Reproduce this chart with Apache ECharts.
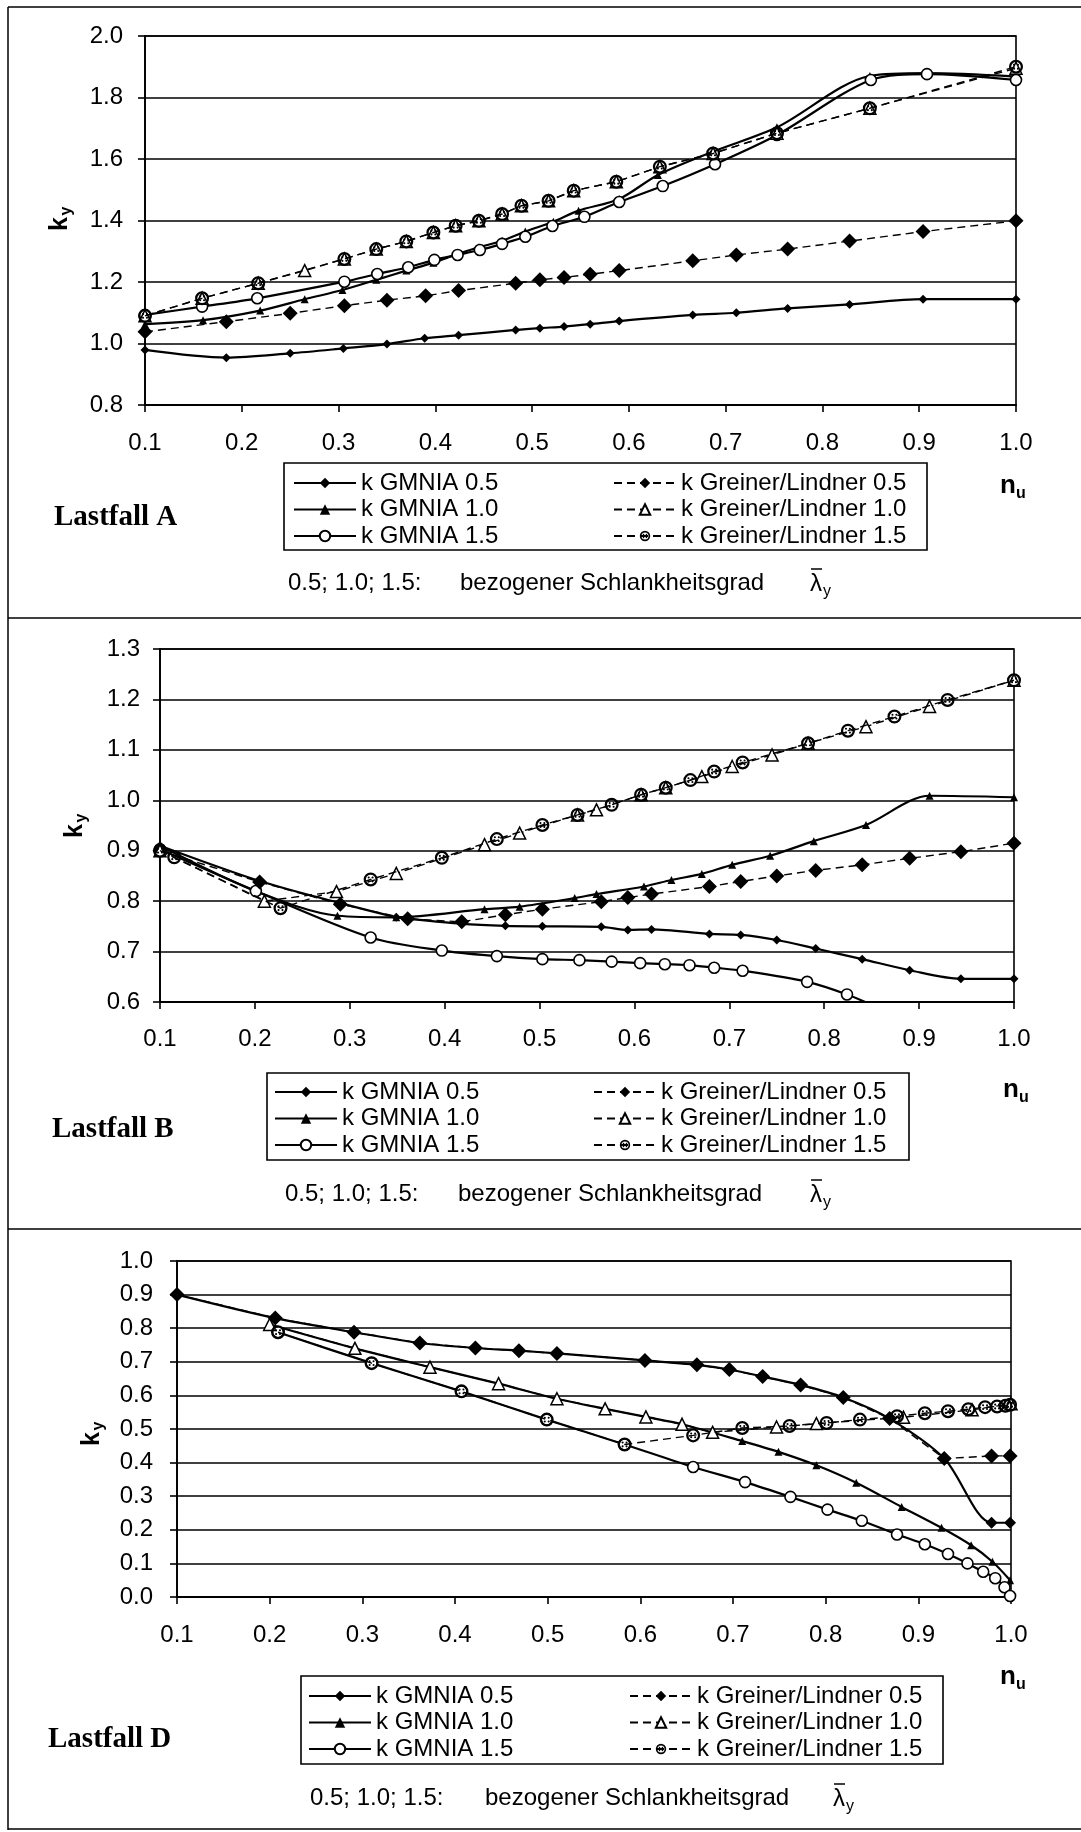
<!DOCTYPE html>
<html>
<head>
<meta charset="utf-8">
<script src="https://cdn.jsdelivr.net/npm/echarts@6/dist/echarts.min.js"></script>
<style>
html,body{margin:0;padding:0;background:#fff;}
#c{width:1081px;height:1832px;}
</style>
</head>
<body>
<div id="c"></div>
<script>
// ---------------- DATA (n_u, k_y) ----------------
// Lastfall A
const A_GMNIA_05 = [[0.1,0.979],[0.184,0.954],[0.25,0.968],[0.305,0.984],[0.35,0.998],[0.389,1.017],[0.424,1.027],[0.483,1.044],[0.508,1.05],[0.533,1.055],[0.56,1.063],[0.59,1.073],[0.666,1.093],[0.711,1.1],[0.764,1.114],[0.828,1.127],[0.904,1.144],[1.0,1.144]];
const A_GMNIA_10 = [[0.1,1.063],[0.16,1.076],[0.219,1.107],[0.265,1.144],[0.304,1.174],[0.339,1.207],[0.37,1.237],[0.398,1.263],[0.423,1.291],[0.445,1.313],[0.469,1.334],[0.493,1.364],[0.522,1.396],[0.548,1.432],[0.59,1.47],[0.63,1.548],[0.687,1.624],[0.753,1.703],[0.849,1.87],[0.908,1.879],[1.0,1.868]];
const A_GMNIA_15 = [[0.1,1.093],[0.159,1.12],[0.216,1.147],[0.306,1.201],[0.34,1.226],[0.372,1.248],[0.399,1.272],[0.423,1.288],[0.446,1.304],[0.469,1.324],[0.493,1.347],[0.521,1.382],[0.554,1.412],[0.59,1.46],[0.635,1.512],[0.689,1.583],[0.753,1.678],[0.85,1.857],[0.908,1.876],[1.0,1.857]];
const A_GL_05 = [[0.1,1.038],[0.184,1.071],[0.25,1.098],[0.306,1.123],[0.35,1.141],[0.39,1.155],[0.424,1.172],[0.483,1.196],[0.508,1.207],[0.533,1.215],[0.56,1.225],[0.59,1.237],[0.666,1.269],[0.711,1.288],[0.764,1.307],[0.828,1.333],[0.904,1.364],[1.0,1.399]];
const A_GL_10 = [[0.1,1.09],[0.159,1.147],[0.217,1.196],[0.265,1.237],[0.306,1.275],[0.339,1.307],[0.37,1.332],[0.398,1.361],[0.421,1.383],[0.445,1.399],[0.469,1.421],[0.489,1.448],[0.517,1.464],[0.543,1.497],[0.587,1.526],[0.632,1.575],[0.687,1.618],[0.753,1.684],[0.849,1.765],[1.0,1.895]];
const A_GL_15 = [[0.1,1.09],[0.159,1.147],[0.217,1.196],[0.306,1.275],[0.339,1.307],[0.37,1.332],[0.398,1.361],[0.421,1.383],[0.445,1.399],[0.469,1.421],[0.489,1.448],[0.517,1.464],[0.543,1.497],[0.587,1.526],[0.632,1.575],[0.687,1.618],[0.753,1.684],[0.849,1.765],[1.0,1.9]];

// Lastfall B
const B_GMNIA_05 = [[0.1,0.91],[0.205,0.84],[0.29,0.796],[0.349,0.768],[0.361,0.765],[0.418,0.755],[0.464,0.751],[0.503,0.75],[0.565,0.749],[0.593,0.743],[0.618,0.744],[0.679,0.735],[0.712,0.733],[0.75,0.723],[0.791,0.706],[0.84,0.685],[0.89,0.663],[0.944,0.646],[1.0,0.646]];
const B_GMNIA_10 = [[0.1,0.91],[0.202,0.819],[0.287,0.771],[0.349,0.768],[0.442,0.784],[0.479,0.789],[0.537,0.806],[0.56,0.814],[0.61,0.829],[0.639,0.842],[0.671,0.854],[0.703,0.872],[0.743,0.89],[0.789,0.919],[0.844,0.951],[0.911,1.009],[1.0,1.006]];
const B_GMNIA_15 = [[0.1,0.903],[0.201,0.82],[0.322,0.728],[0.397,0.702],[0.455,0.691],[0.503,0.685],[0.542,0.683],[0.576,0.68],[0.606,0.677],[0.632,0.675],[0.658,0.673],[0.684,0.668],[0.714,0.662],[0.782,0.64],[0.824,0.615],[0.86,0.586]];
const B_GL_05 = [[0.1,0.9],[0.205,0.838],[0.29,0.794],[0.361,0.765],[0.418,0.759],[0.464,0.773],[0.503,0.784],[0.565,0.799],[0.593,0.807],[0.618,0.814],[0.679,0.829],[0.712,0.839],[0.75,0.85],[0.791,0.861],[0.84,0.872],[0.89,0.885],[0.944,0.898],[1.0,0.915]];
const B_GL_10 = [[0.1,0.9],[0.21,0.8],[0.286,0.819],[0.349,0.855],[0.442,0.912],[0.479,0.935],[0.54,0.971],[0.56,0.981],[0.607,1.011],[0.633,1.025],[0.671,1.047],[0.703,1.067],[0.745,1.09],[0.783,1.113],[0.844,1.146],[0.911,1.186],[1.0,1.238]];
const B_GL_15 = [[0.1,0.9],[0.115,0.887],[0.227,0.786],[0.322,0.843],[0.397,0.886],[0.455,0.923],[0.503,0.951],[0.54,0.971],[0.576,0.991],[0.607,1.011],[0.633,1.025],[0.659,1.04],[0.684,1.057],[0.714,1.075],[0.783,1.113],[0.825,1.138],[0.874,1.166],[0.93,1.199],[1.0,1.238]];

// Lastfall D
const D_GMNIA_05 = [[0.1,0.9],[0.206,0.83],[0.291,0.788],[0.362,0.756],[0.422,0.741],[0.469,0.733],[0.51,0.725],[0.605,0.704],[0.661,0.691],[0.696,0.677],[0.732,0.656],[0.773,0.631],[0.819,0.594],[0.869,0.531],[0.928,0.412],[0.979,0.221],[0.999,0.221]];
const D_GMNIA_10 = [[0.2,0.811],[0.292,0.74],[0.373,0.684],[0.447,0.635],[0.51,0.59],[0.562,0.56],[0.606,0.536],[0.645,0.514],[0.71,0.464],[0.749,0.432],[0.79,0.392],[0.833,0.34],[0.882,0.268],[0.925,0.206],[0.957,0.154],[0.98,0.105],[0.999,0.05]];
const D_GMNIA_15 = [[0.209,0.788],[0.31,0.696],[0.407,0.612],[0.499,0.528],[0.583,0.454],[0.657,0.387],[0.713,0.342],[0.762,0.298],[0.802,0.26],[0.839,0.227],[0.877,0.186],[0.907,0.157],[0.932,0.128],[0.953,0.1],[0.97,0.075],[0.983,0.056],[0.993,0.029],[0.999,0.003]];
const D_GL_05 = [[0.1,0.9],[0.206,0.83],[0.291,0.788],[0.362,0.756],[0.422,0.741],[0.469,0.733],[0.51,0.725],[0.605,0.704],[0.661,0.691],[0.696,0.677],[0.732,0.656],[0.773,0.631],[0.819,0.594],[0.869,0.531],[0.928,0.412],[0.979,0.42],[0.999,0.42]];
const D_GL_10 = [[0.2,0.811],[0.292,0.74],[0.373,0.684],[0.447,0.635],[0.51,0.59],[0.562,0.56],[0.606,0.536],[0.645,0.514],[0.678,0.49],[0.747,0.506],[0.79,0.516],[0.884,0.535],[0.958,0.557],[1.0,0.575]];
const D_GL_15 = [[0.209,0.788],[0.31,0.696],[0.407,0.612],[0.499,0.528],[0.583,0.454],[0.657,0.481],[0.71,0.503],[0.761,0.509],[0.801,0.518],[0.837,0.528],[0.877,0.538],[0.907,0.547],[0.932,0.553],[0.954,0.559],[0.972,0.565],[0.985,0.567],[0.994,0.569],[0.999,0.572]];

// Axis ranges
const X_RANGE = {min: 0.1, max: 1.0, interval: 0.1};
const A_Y = {min: 0.8, max: 2.0, interval: 0.2};
const B_Y = {min: 0.6, max: 1.3, interval: 0.1};
const D_Y = {min: 0.0, max: 1.0, interval: 0.1};

const SERIES_NAMES = ['k GMNIA 0.5','k GMNIA 1.0','k GMNIA 1.5','k Greiner/Lindner 0.5','k Greiner/Lindner 1.0','k Greiner/Lindner 1.5'];
const PANEL_TITLES = ['Lastfall A','Lastfall B','Lastfall D'];
const FOOT_LEFT = '0.5; 1.0; 1.5:';
const FOOT_MID = 'bezogener Schlankheitsgrad';

// ---------------- STYLE / LAYOUT ----------------
const SANS = "'Liberation Sans', Arial, Helvetica, sans-serif";
const SERIF = "'Liberation Serif', 'Times New Roman', serif";
const DOTCIRCLE = 'path://M10,0A10,10,0,1,1,10,20A10,10,0,1,1,10,0ZM10,3.2A6.8,6.8,0,1,0,10,16.8A6.8,6.8,0,1,0,10,3.2ZM7.2,5.8A1.5,1.5,0,1,1,7.2,8.8A1.5,1.5,0,1,1,7.2,5.8ZM12.8,5.8A1.5,1.5,0,1,1,12.8,8.8A1.5,1.5,0,1,1,12.8,5.8ZM7.2,11.2A1.5,1.5,0,1,1,7.2,14.2A1.5,1.5,0,1,1,7.2,11.2ZM12.8,11.2A1.5,1.5,0,1,1,12.8,14.2A1.5,1.5,0,1,1,12.8,11.2Z';

const STY = [
  {symbol:'diamond', size:9, fill:'#000', bw:0, dash:'solid', lw:2.2, smooth:0.3},
  {symbol:'triangle', size:8, fill:'#000', bw:0, dash:'solid', lw:2.2, smooth:0.3},
  {symbol:'circle', size:11, fill:'#fff', bw:1.6, dash:'solid', lw:2.2, smooth:0.3},
  {symbol:'diamond', size:15, fill:'#000', bw:0, dash:[8,5], lw:1.4, smooth:false},
  {symbol:'triangle', size:12, fill:'#fff', bw:1.5, dash:[8,5], lw:1.4, smooth:false},
  {symbol:DOTCIRCLE, size:14, fill:'#000', bw:0, dash:[8,5], lw:1.4, smooth:false}
];

const PANELS = [
  {id:'A', y:A_Y, data:[A_GMNIA_05,A_GMNIA_10,A_GMNIA_15,A_GL_05,A_GL_10,A_GL_15],
   grid:{left:145, top:36, width:871, height:369}, yMargin:22, xMargin:26,
   legendTop:470, legendLeft:[293,613], box:[284,463,643,87],
   title:[54,518], nu:[1000,486], ky:[60,224], foot:{y:583, x1:288, x2:460, lam:810}},
  {id:'B', y:B_Y, data:[B_GMNIA_05,B_GMNIA_10,B_GMNIA_15,B_GL_05,B_GL_10,B_GL_15],
   grid:{left:160, top:649, width:854, height:353}, yMargin:20, xMargin:25,
   legendTop:1079, legendLeft:[274,593], box:[267,1073,642,87],
   title:[52,1130], nu:[1003,1090], ky:[75,831], foot:{y:1194, x1:285, x2:458, lam:810}},
  {id:'D', y:D_Y, data:[D_GMNIA_05,D_GMNIA_10,D_GMNIA_15,D_GL_05,D_GL_10,D_GL_15],
   grid:{left:177, top:1261, width:834, height:336}, yMargin:24, xMargin:26,
   legendTop:1683, legendLeft:[308,629], box:[301,1676,642,88],
   title:[48,1740], nu:[1000,1677], ky:[92,1439], foot:{y:1798, x1:310, x2:485, lam:833}}
];

const grids = [], xAxes = [], yAxes = [], series = [], legends = [], graphics = [];

PANELS.forEach((p, gi) => {
  grids.push(Object.assign({show:true, borderColor:'#000', borderWidth:1.6, backgroundColor:'#fff'}, p.grid));
  xAxes.push({
    type:'value', gridIndex:gi, min:X_RANGE.min, max:X_RANGE.max, interval:X_RANGE.interval,
    axisLine:{show:true, onZero:false, lineStyle:{color:'#000', width:1.8}},
    axisTick:{show:true, inside:false, length:7, lineStyle:{color:'#000', width:1.6}},
    axisLabel:{margin:p.xMargin, color:'#000', fontSize:24, fontFamily:SANS, formatter:v=>v.toFixed(1)},
    splitLine:{show:false}
  });
  yAxes.push({
    type:'value', gridIndex:gi, min:p.y.min, max:p.y.max, interval:p.y.interval,
    axisLine:{show:true, onZero:false, lineStyle:{color:'#000', width:1.8}},
    axisTick:{show:true, inside:false, length:7, lineStyle:{color:'#000', width:1.6}},
    axisLabel:{margin:p.yMargin, color:'#000', fontSize:24, fontFamily:SANS, formatter:v=>v.toFixed(1)},
    splitLine:{show:true, lineStyle:{color:'#000', width:1.6}}
  });
  p.data.forEach((d, si) => {
    const s = STY[si];
    let size = s.size;
    if (p.id === 'D' && si === 0) size = 12;
    series.push({
      type:'line', name:p.id + '|' + SERIES_NAMES[si], xAxisIndex:gi, yAxisIndex:gi,
      data:d, smooth:s.smooth, symbol:s.symbol, symbolSize:size, showSymbol:true,
      clip:true, animation:false, z: 2 + si,
      lineStyle:{color:'#000', width:s.lw, type:s.dash},
      itemStyle:{color:s.fill, borderColor:'#000', borderWidth:s.bw}
    });
  });
  [[0,1,2],[3,4,5]].forEach((cols, ci) => {
    legends.push({
      orient:'vertical', left:p.legendLeft[ci], top:p.legendTop, padding:0,
      itemWidth:62, itemHeight:13, itemGap:0.5,
      data:cols.map(i => p.id + '|' + SERIES_NAMES[i]),
      formatter:n => n.split('|')[1],
      textStyle:{color:'#000', fontSize:24, fontFamily:SANS, lineHeight:26},
      selectedMode:false
    });
  });
  // legend box
  graphics.push({type:'rect', shape:{x:p.box[0], y:p.box[1], width:p.box[2], height:p.box[3]},
    style:{fill:'none', stroke:'#000', lineWidth:1.6}, z:-1});
  // Lastfall title
  graphics.push({type:'text', x:p.title[0], y:p.title[1],
    style:{text:PANEL_TITLES[gi], font:'bold 29px ' + SERIF, fill:'#000', textAlign:'left', textVerticalAlign:'middle'}});
  // n_u
  graphics.push({type:'text', x:p.nu[0], y:p.nu[1],
    style:{text:'n', font:'bold 26px ' + SANS, fill:'#000', textAlign:'left', textVerticalAlign:'middle'}});
  graphics.push({type:'text', x:p.nu[0] + 16, y:p.nu[1] + 8,
    style:{text:'u', font:'bold 16px ' + SANS, fill:'#000', textAlign:'left', textVerticalAlign:'middle'}});
  // k_y (rotated)
  graphics.push({type:'text', x:p.ky[0], y:p.ky[1], rotation:Math.PI/2,
    style:{text:'k', font:'bold 25px ' + SANS, fill:'#000', textAlign:'center', textVerticalAlign:'middle'}});
  graphics.push({type:'text', x:p.ky[0] + 7, y:p.ky[1] - 13, rotation:Math.PI/2,
    style:{text:'y', font:'bold 16px ' + SANS, fill:'#000', textAlign:'center', textVerticalAlign:'middle'}});
  // footnote
  const f = p.foot;
  graphics.push({type:'text', x:f.x1, y:f.y,
    style:{text:FOOT_LEFT, font:'24px ' + SANS, fill:'#000', textAlign:'left', textVerticalAlign:'middle'}});
  graphics.push({type:'text', x:f.x2, y:f.y,
    style:{text:FOOT_MID, font:'24px ' + SANS, fill:'#000', textAlign:'left', textVerticalAlign:'middle'}});
  graphics.push({type:'text', x:f.lam, y:f.y + 1,
    style:{text:'λ', font:'24px ' + SANS, fill:'#000', textAlign:'left', textVerticalAlign:'middle'}});
  graphics.push({type:'text', x:f.lam + 13, y:f.y + 9,
    style:{text:'y', font:'16px ' + SANS, fill:'#000', textAlign:'left', textVerticalAlign:'middle'}});
  graphics.push({type:'line', shape:{x1:f.lam + 1, y1:f.y - 14, x2:f.lam + 12, y2:f.y - 14},
    style:{stroke:'#000', lineWidth:1.5}});
});

// frame lines
[[8,7,1081,7],[8,7,8,1830],[8,618,1081,618],[8,1229,1081,1229],[8,1829,1081,1829]].forEach(l => {
  graphics.push({type:'line', shape:{x1:l[0], y1:l[1], x2:l[2], y2:l[3]}, style:{stroke:'#000', lineWidth:1.5}});
});

const chart = echarts.init(document.getElementById('c'), null, {renderer:'canvas'});
chart.setOption({
  backgroundColor:'#fff',
  animation:false,
  grid:grids, xAxis:xAxes, yAxis:yAxes, series:series, legend:legends,
  graphic:{elements:graphics}
});
</script>
</body>
</html>
